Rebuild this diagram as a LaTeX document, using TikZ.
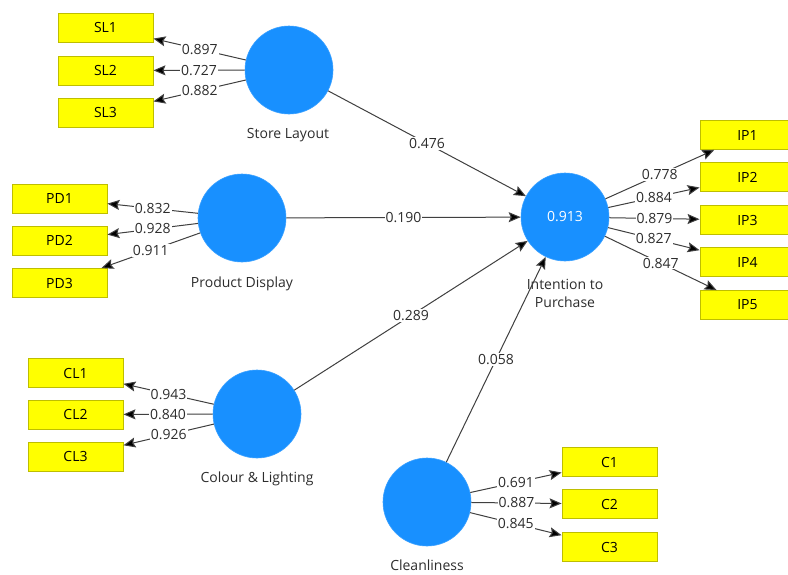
\documentclass[tikz,border=0pt]{standalone}
\usepackage{fontspec}
\setmainfont{Open Sans}
\usetikzlibrary{arrows.meta}
\definecolor{lvblue}{RGB}{24,144,255}
\definecolor{mvyellow}{RGB}{255,255,0}
\definecolor{mvborder}{RGB}{190,190,0}
\definecolor{txt}{RGB}{45,45,45}
\tikzset{
  lv/.style={circle,fill=lvblue,draw=lvblue!85!white,line width=0.6pt,minimum size=88pt,inner sep=0pt,text=white,font=\fontsize{14}{16}\selectfont},
  mv/.style={rectangle,fill=mvyellow,draw=mvborder,line width=0.9pt,minimum width=95pt,minimum height=29pt,inner sep=0pt,text=black,font=\fontsize{14}{16}\selectfont},
  lvlabel/.style={text=txt,font=\fontsize{14}{18}\selectfont,align=center,inner sep=0pt},
  wt/.style={fill=white,inner sep=1pt,text=txt,font=\fontsize{14}{16}\selectfont},
  pth/.style={draw=black!75,line width=1pt,-{Stealth[length=12pt,width=10pt,inset=2pt,fill=black]}}
}
\begin{document}
\begin{tikzpicture}[x=1pt,y=-1pt]
\clip (0,0) rectangle (788,574);
\fill[white] (0,0) rectangle (788,574);
% latent variables
\node[lv] (SL) at (289,70) {};
\node[lv] (PD) at (242,218) {};
\node[lv] (CL) at (257,414) {};
\node[lv] (CN) at (427,502) {};
\node[lv] (IP) at (565,217) {0.913};
% lv labels
\node[lvlabel] (SLt) at (288,135) {Store Layout};
\node[lvlabel] (PDt) at (242,284) {Product Display};
\node[lvlabel] (CLt) at (257,479) {Colour \& Lighting};
\node[lvlabel] (CNt) at (427,565) {Cleanliness};
\node[lvlabel] (IPt) at (565,293) {Intention to\\Purchase};
% manifest variables
\node[mv] (SL1) at (105.5,27.5) {SL1};
\node[mv] (SL2) at (105.5,70.5) {SL2};
\node[mv] (SL3) at (105.5,112.5) {SL3};
\node[mv] (PD1) at (59.5,198.5) {PD1};
\node[mv] (PD2) at (59.5,240.5) {PD2};
\node[mv] (PD3) at (59.5,283) {PD3};
\node[mv] (CL1) at (75.5,373) {CL1};
\node[mv] (CL2) at (75.5,414.5) {CL2};
\node[mv] (CL3) at (75.5,456.5) {CL3};
\node[mv] (C1) at (609.5,462) {C1};
\node[mv] (C2) at (609.5,504) {C2};
\node[mv] (C3) at (609.5,547) {C3};
\node[mv] (IP1) at (747.5,135) {IP1};
\node[mv] (IP2) at (747.5,177) {IP2};
\node[mv] (IP3) at (747.5,220) {IP3};
\node[mv] (IP4) at (747.5,262) {IP4};
\node[mv] (IP5) at (747.5,305) {IP5};
% outer loadings
\draw[pth] (SL) -- node[wt]{0.897} (SL1);
\draw[pth] (SL) -- node[wt]{0.727} (SL2);
\draw[pth] (SL) -- node[wt]{0.882} (SL3);
\draw[pth] (PD) -- node[wt]{0.832} (PD1);
\draw[pth] (PD) -- node[wt]{0.928} (PD2);
\draw[pth] (PD) -- node[wt]{0.911} (PD3);
\draw[pth] (CL) -- node[wt]{0.943} (CL1);
\draw[pth] (CL) -- node[wt]{0.840} (CL2);
\draw[pth] (CL) -- node[wt]{0.926} (CL3);
\draw[pth] (CN) -- node[wt]{0.691} (C1);
\draw[pth] (CN) -- node[wt]{0.887} (C2);
\draw[pth] (CN) -- node[wt]{0.845} (C3);
\draw[pth] (IP) -- node[wt]{0.778} (IP1);
\draw[pth] (IP) -- node[wt]{0.884} (IP2);
\draw[pth] (IP) -- node[wt]{0.879} (IP3);
\draw[pth] (IP) -- node[wt]{0.827} (IP4);
\draw[pth] (IP) -- node[wt]{0.847} (IP5);
% inner paths
\draw[pth] (SL) -- node[wt]{0.476} (IP);
\draw[pth] (PD) -- node[wt]{0.190} (IP);
\draw[pth] (CL) -- node[wt]{0.289} (IP);
\draw[pth] (CN) -- node[wt]{0.058} (IP);
\end{tikzpicture}
\end{document}
